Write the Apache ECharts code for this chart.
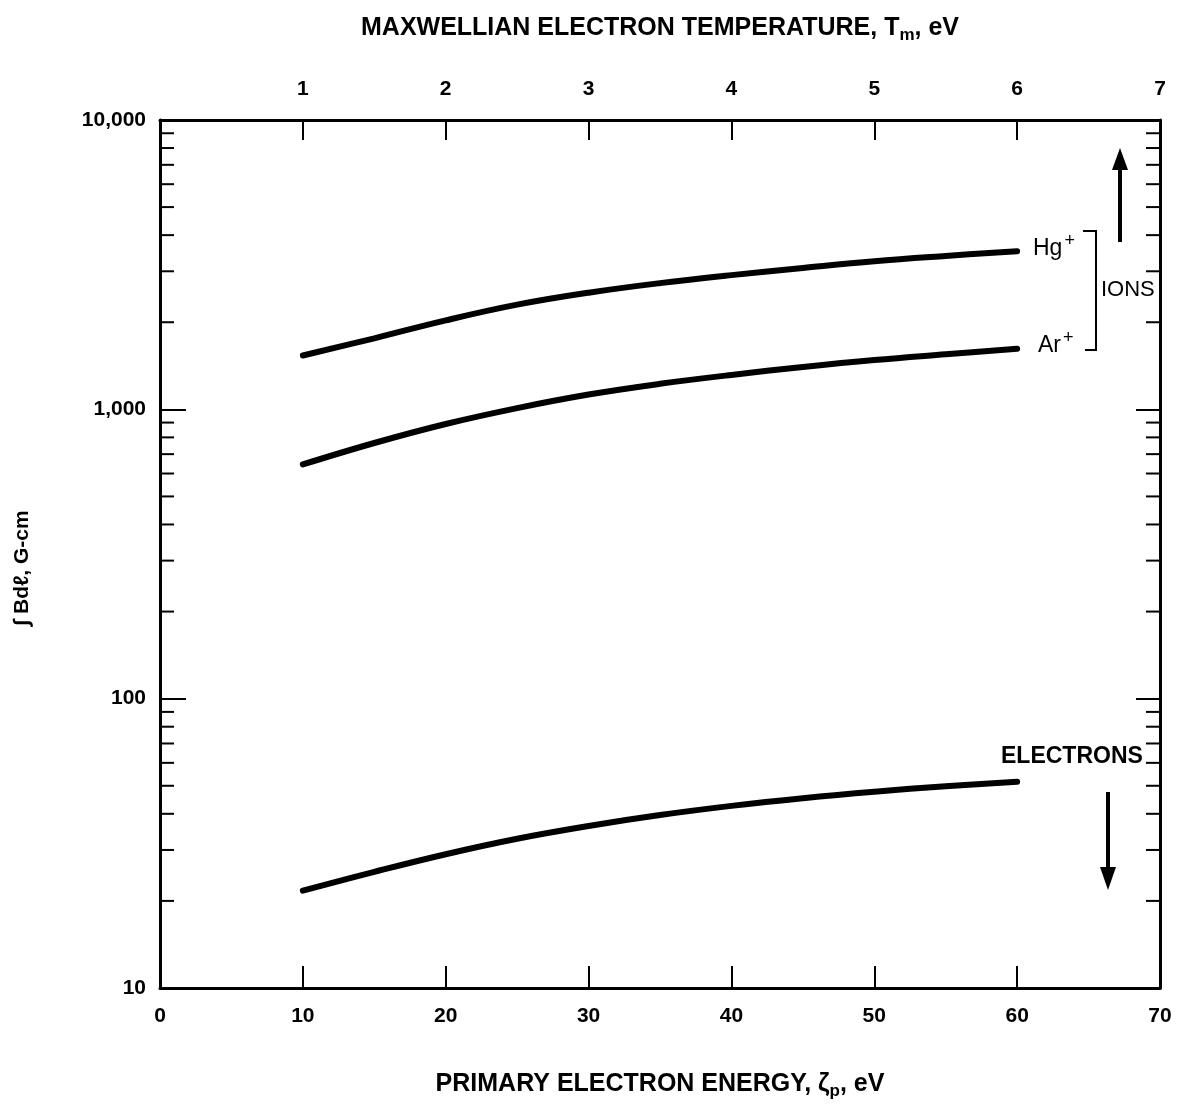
<!DOCTYPE html>
<html>
<head>
<meta charset="utf-8">
<title>Bdl vs primary electron energy</title>
<script src="https://cdn.jsdelivr.net/npm/echarts@6/dist/echarts.min.js"></script>
<style>
    html, body {margin: 0; padding: 0; background: #fff;}
    #chart {width: 1187px; height: 1106px;}
</style>
</head>
<body>
<div id="chart"></div>
<script>
    // primary electron energy, eV
    const energy = [10, 15, 20, 25, 30, 35, 40, 45, 50, 55, 60]
    // integral B dl, G-cm
    const hgIons = [1535, 1760, 2030, 2300, 2530, 2730, 2910, 3080, 3250, 3390, 3520]
    const arIons = [645, 765, 890, 1010, 1125, 1225, 1315, 1400, 1480, 1550, 1620]
    const electrons = [21.7, 25.2, 29.0, 32.8, 36.3, 39.6, 42.6, 45.3, 47.7, 49.8, 51.6]
    // log axis minor ticks
    const minorTicks = [20, 30, 40, 50, 60, 70, 80, 90,
        200, 300, 400, 500, 600, 700, 800, 900,
        2000, 3000, 4000, 5000, 6000, 7000, 8000, 9000]

    const font = '"Liberation Sans", Arial, sans-serif'
    const lineOf = (name, values) => ({
        name: name,
        type: 'line',
        smooth: 0.4,
        showSymbol: false,
        lineStyle: {color: '#000', width: 6, cap: 'round'},
        data: energy.map((x, i) => [x, values[i]])
    })
    const titleRich = {
        a: {fontSize: 25, fontWeight: 'bold', color: '#000', fontFamily: font},
        s: {fontSize: 17, fontWeight: 'bold', color: '#000', fontFamily: font, padding: [15, 0, 0, 0]}
    }
    const ionRich = {
        a: {fontSize: 23, fontFamily: font, fill: '#000'},
        s: {fontSize: 18, fontFamily: font, fill: '#000', padding: [0, 0, 16, 2]}
    }

    const myChart = echarts.init(document.getElementById('chart'))
    myChart.setOption({
        animation: false,
        textStyle: {fontFamily: font, color: '#000'},
        grid: {left: 160, top: 120, right: 27, bottom: 118, outerBoundsMode: 'none'},
        xAxis: [
            {
                type: 'value', position: 'bottom', min: 0, max: 70, interval: 10,
                name: '{a|PRIMARY ELECTRON ENERGY, ζ}{s|p}{a|, eV}',
                nameLocation: 'middle', nameGap: 80,
                nameTextStyle: {rich: titleRich},
                axisLine: {onZero: false, lineStyle: {color: '#000', width: 3}},
                axisTick: {inside: true, length: 22, lineStyle: {color: '#000', width: 2}},
                axisLabel: {margin: 18, fontSize: 21, fontWeight: 'bold', color: '#000'},
                splitLine: {show: false}
            },
            {
                type: 'value', position: 'top', min: 0, max: 7, interval: 1,
                name: '{a|MAXWELLIAN ELECTRON TEMPERATURE, T}{s|m}{a|, eV}',
                nameLocation: 'middle', nameGap: 76,
                nameTextStyle: {rich: titleRich},
                axisLine: {onZero: false, lineStyle: {color: '#000', width: 3}},
                axisTick: {inside: true, length: 20, lineStyle: {color: '#000', width: 2}},
                axisLabel: {
                    margin: 20, fontSize: 21, fontWeight: 'bold', color: '#000',
                    formatter: v => v === 0 ? '' : String(v)
                },
                splitLine: {show: false}
            }
        ],
        yAxis: [
            {
                type: 'log', logBase: 10, position: 'left', min: 10, max: 10000,
                name: '∫ Bdℓ, G-cm',
                nameLocation: 'middle', nameGap: 127,
                nameTextStyle: {fontSize: 21, fontWeight: 'bold', color: '#000', padding: [0, 0, 0, -28]},
                axisLine: {onZero: false, lineStyle: {color: '#000', width: 3}},
                axisTick: {inside: true, length: 26, lineStyle: {color: '#000', width: 2}},
                axisLabel: {
                    margin: 14, fontSize: 21, fontWeight: 'bold', color: '#000',
                    formatter: v => Number(v).toLocaleString('en-US')
                },
                splitLine: {show: false}
            },
            {
                type: 'log', logBase: 10, position: 'right', min: 10, max: 10000,
                axisLine: {onZero: false, lineStyle: {color: '#000', width: 3}},
                axisTick: {inside: true, length: 24, lineStyle: {color: '#000', width: 2}},
                axisLabel: {show: false},
                splitLine: {show: false}
            }
        ],
        series: [
            lineOf('Hg+', hgIons),
            lineOf('Ar+', arIons),
            lineOf('Electrons', electrons),
            {
                name: 'minor ticks',
                type: 'custom',
                silent: true,
                clip: false,
                data: minorTicks.map(v => [0, v]),
                renderItem: (params, api) => {
                    const v = api.value(1)
                    const pL = api.coord([0, v])
                    const pR = api.coord([70, v])
                    const st = {stroke: '#000', lineWidth: 2}
                    return {
                        type: 'group',
                        children: [
                            {type: 'line', shape: {x1: pL[0], y1: pL[1], x2: pL[0] + 14, y2: pL[1]}, style: st},
                            {type: 'line', shape: {x1: pR[0] - 14, y1: pR[1], x2: pR[0], y2: pR[1]}, style: st}
                        ]
                    }
                }
            }
        ],
        graphic: [
            // ion labels
            {type: 'text', left: 1033, top: 232, style: {text: '{a|Hg}{s|+}', rich: ionRich}},
            {type: 'text', left: 1038, top: 329, style: {text: '{a|Ar}{s|+}', rich: ionRich}},
            {
                type: 'polyline',
                shape: {points: [[1083, 231], [1096, 231], [1096, 350], [1085, 350]]},
                style: {stroke: '#000', lineWidth: 2, fill: null}
            },
            {
                type: 'text', left: 1101, top: 279,
                style: {text: 'IONS', fontSize: 22, fontFamily: font, fill: '#000'}
            },
            // up arrow
            {
                type: 'line', shape: {x1: 1120, y1: 242, x2: 1120, y2: 166},
                style: {stroke: '#000', lineWidth: 4}
            },
            {
                type: 'polygon', shape: {points: [[1120, 148], [1112, 170], [1128, 170]]},
                style: {fill: '#000'}
            },
            // electrons label and down arrow
            {
                type: 'text', left: 1001, top: 745,
                style: {text: 'ELECTRONS', fontSize: 23, fontWeight: 'bold', fontFamily: font, fill: '#000'}
            },
            {
                type: 'line', shape: {x1: 1108, y1: 792, x2: 1108, y2: 870},
                style: {stroke: '#000', lineWidth: 4}
            },
            {
                type: 'polygon', shape: {points: [[1108, 890], [1100, 867], [1116, 867]]},
                style: {fill: '#000'}
            }
        ]
    })
</script>
</body>
</html>
